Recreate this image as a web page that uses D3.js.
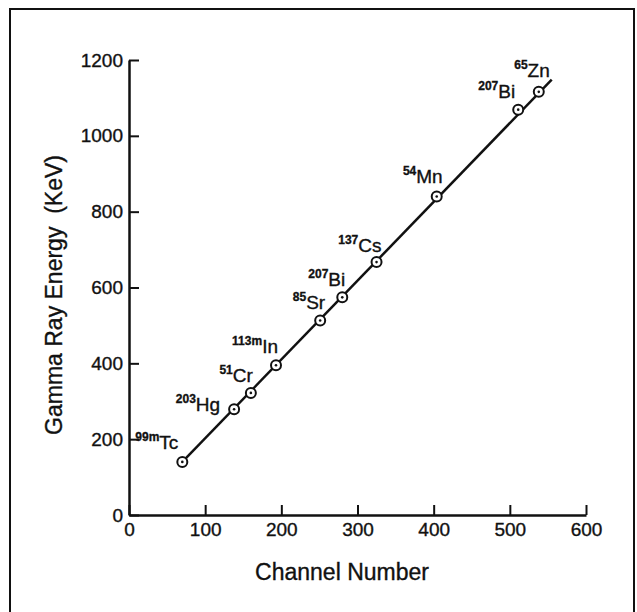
<!DOCTYPE html>
<html>
<head>
<meta charset="utf-8">
<script src="https://cdn.jsdelivr.net/npm/d3@7"></script>
<style>
  html, body { margin: 0; padding: 0; background: #fff; }
  svg { display: block; }
  text { font-family: "Liberation Sans", Arial, Helvetica, sans-serif; fill: #111; stroke: #111; stroke-width: 0.35px; }
</style>
</head>
<body>
<svg id="chart" width="637" height="612"></svg>
<script>
// ---- data ----
const channels = [70, 138, 160, 193, 251, 280, 325, 404, 511, 538];
const energies = [140, 279, 322, 395, 513, 574, 667, 840, 1069, 1116];
const massNumbers = ["99m", "203", "51", "113m", "85", "207", "137", "54", "207", "65"];
const elements = ["Tc", "Hg", "Cr", "In", "Sr", "Bi", "Cs", "Mn", "Bi", "Zn"];
const fitChannels = [70, 555];
const fitEnergies = [140, 1148];
const xTicks = [0, 100, 200, 300, 400, 500, 600];
const yTicks = [0, 200, 400, 600, 800, 1000, 1200];

// ---- drawing ----
const svg = d3.select("#chart");
const W = 637, H = 612;
svg.append("rect").attr("width", W).attr("height", H).attr("fill", "#fff");

// frame
svg.append("path")
  .attr("d", `M10,${H + 5} L10,9 L634,9 L634,${H + 5}`)
  .attr("fill", "none").attr("stroke", "#111").attr("stroke-width", 2);

const x = d3.scaleLinear().domain([0, 600]).range([129, 586]);
const y = d3.scaleLinear().domain([0, 1200]).range([515, 60]);

const fmt = d3.format("d");
const xAxis = d3.axisBottom(x).tickValues(xTicks).tickFormat(fmt).tickSizeInner(-10).tickSizeOuter(0).tickPadding(8);
const yAxis = d3.axisLeft(y).tickValues(yTicks).tickFormat(fmt).tickSizeInner(-10).tickSizeOuter(0).tickPadding(6);

const gx = svg.append("g").attr("transform", `translate(0,${y(0)})`).call(xAxis);
const gy = svg.append("g").attr("transform", `translate(${x(0)},0)`).call(yAxis);

[gx, gy].forEach(g => {
  g.select(".domain").attr("stroke", "#111").attr("stroke-width", 2.5);
  g.selectAll(".tick line").attr("stroke", "#111").attr("stroke-width", 2);
  g.selectAll(".tick text").attr("font-size", 19).attr("fill", "#111")
    .attr("font-family", "'Liberation Sans', Arial, sans-serif");
});

// axis titles
svg.append("text")
  .attr("x", 342).attr("y", 580)
  .attr("text-anchor", "middle").attr("font-size", 23)
  .text("Channel Number");

svg.append("text")
  .attr("transform", "translate(62,295) rotate(-90)")
  .attr("text-anchor", "middle").attr("font-size", 23)
  .text("Gamma Ray Energy\u00a0 (KeV)");

// fitted line
const pts = channels.map((c, i) => ({ c, e: energies[i], m: massNumbers[i], el: elements[i] }));
const fit = fitChannels.map((c, i) => [c, fitEnergies[i]]);
svg.append("path")
  .datum(fit)
  .attr("d", d3.line().x(d => x(d[0])).y(d => y(d[1])))
  .attr("fill", "none").attr("stroke", "#111").attr("stroke-width", 2.5);

// points
const gp = svg.append("g");
gp.selectAll("circle.pt").data(pts).join("circle")
  .attr("class", "pt")
  .attr("cx", d => x(d.c)).attr("cy", d => y(d.e)).attr("r", 5)
  .attr("fill", "#fff").attr("stroke", "#111").attr("stroke-width", 2);
gp.selectAll("circle.dot").data(pts).join("circle")
  .attr("class", "dot")
  .attr("cx", d => x(d.c)).attr("cy", d => y(d.e)).attr("r", 1.3)
  .attr("fill", "#111");

// label placement (offset of text end / baseline from the point)
const place = [
  [-4, -13], [-14, 2], [2, -11], [2, -12], [5, -11],
  [3, -11], [5, -10], [6, -14], [-3, -12], [11, -15]
];

const labels = svg.append("g").selectAll("text").data(pts).join("text")
  .attr("x", (d, i) => x(d.c) + place[i][0])
  .attr("y", (d, i) => y(d.e) + place[i][1])
  .attr("text-anchor", "end");
labels.append("tspan").attr("font-size", 12).attr("font-weight", "bold").attr("dy", -8).text(d => d.m);
labels.append("tspan").attr("font-size", 19).attr("dy", 8).text(d => d.el);
</script>
</body>
</html>
